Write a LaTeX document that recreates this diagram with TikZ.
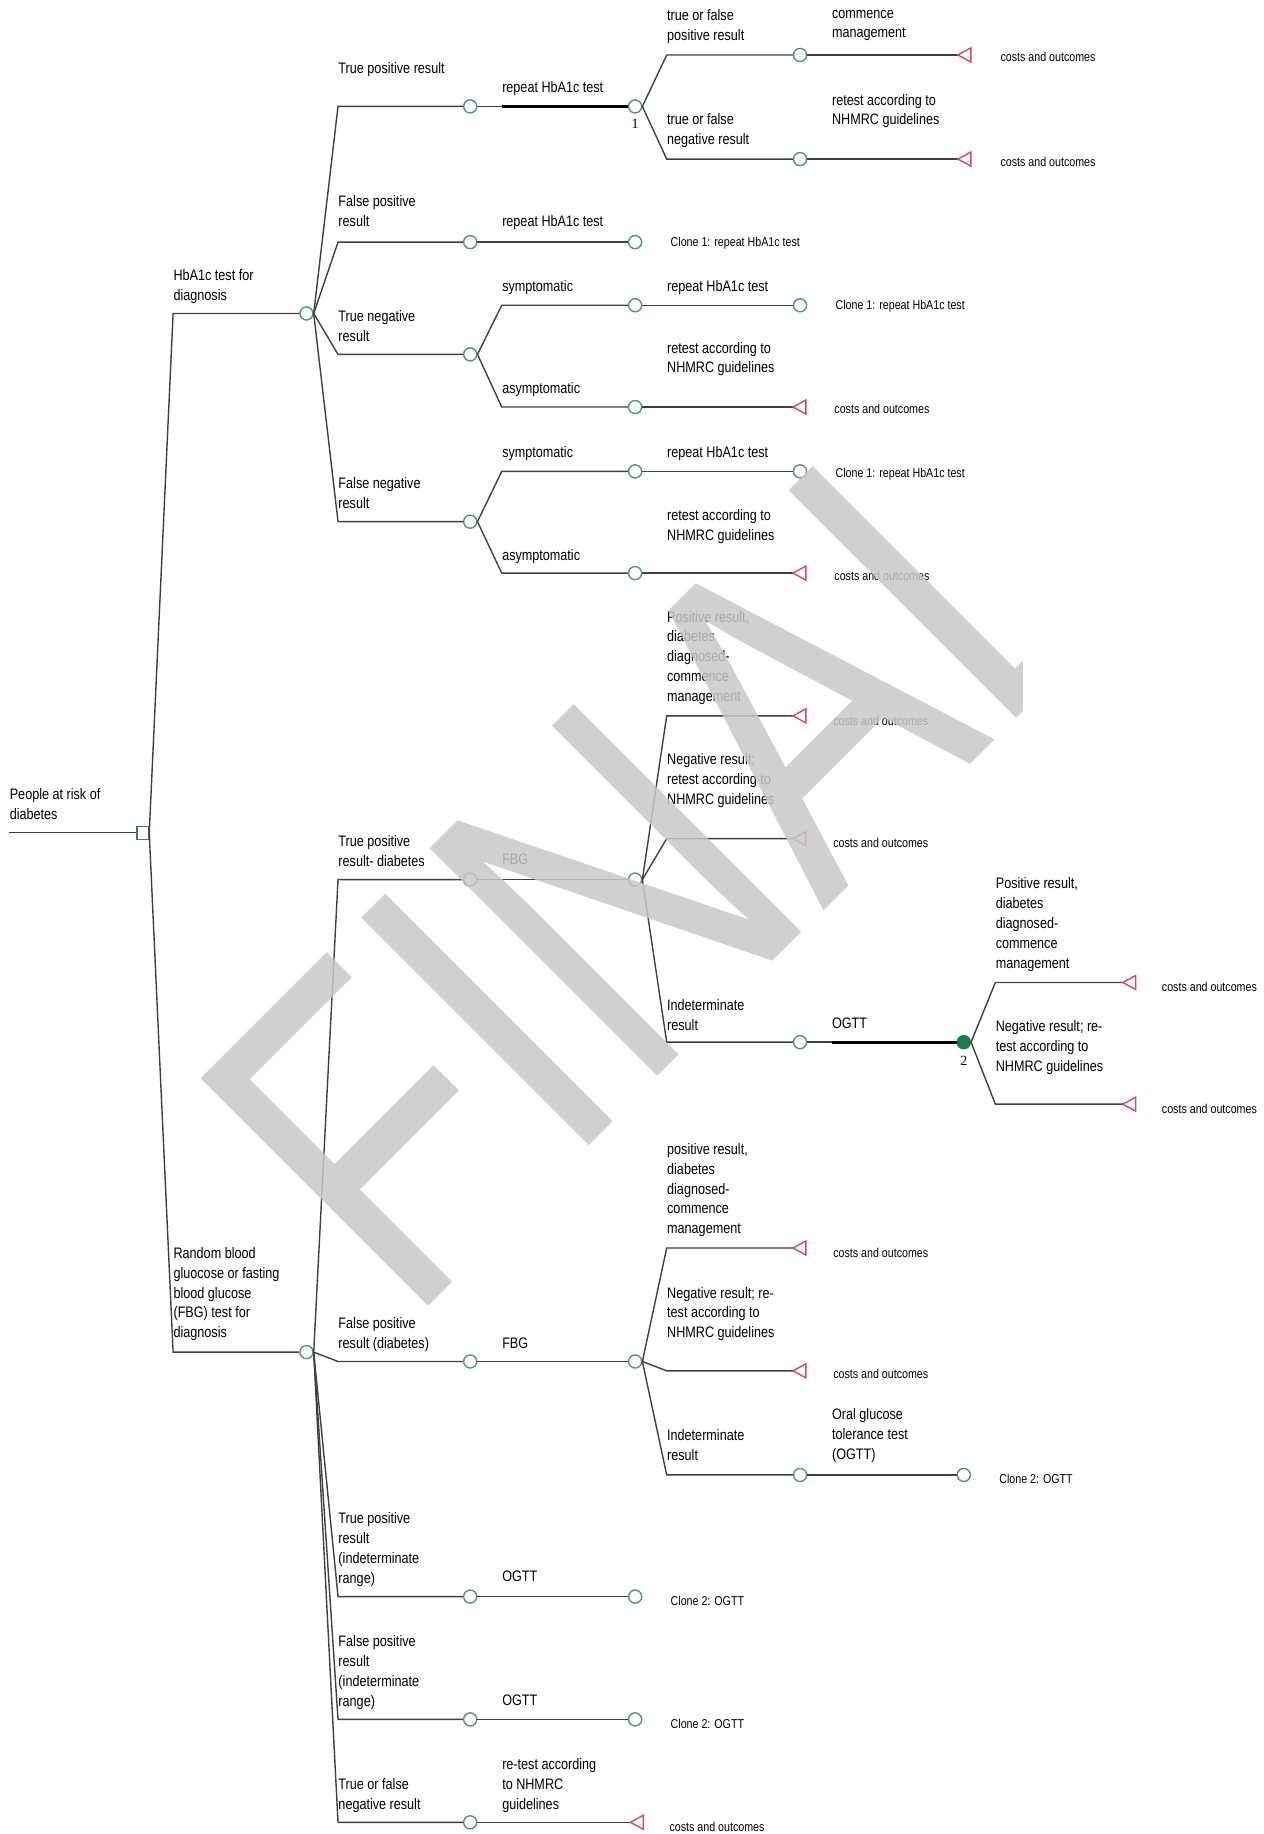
\documentclass[tikz,border=0pt]{standalone}
\usepackage{fontspec}
\setmainfont{Liberation Sans}[FakeStretch=0.83]
\newfontfamily\wmfont{Liberation Sans}[FakeStretch=0.78]
\newfontfamily\numfont{Liberation Serif}
\definecolor{lgrey}{RGB}{64,64,64}
\definecolor{cgreen}{RGB}{80,150,120}
\definecolor{tred}{RGB}{214,70,100}
\definecolor{dblue}{RGB}{70,100,180}
\definecolor{fgreen}{RGB}{30,122,70}
\definecolor{wmgrey}{RGB}{200,200,200}
\begin{document}
\begin{tikzpicture}[x=0.5pt,y=-0.5pt,
  lbl/.style={anchor=north west,inner sep=0pt,align=left,font=\fontsize{6.5}{8.5}\selectfont},
  sml/.style={anchor=west,inner sep=0pt,font=\fontsize{5.5}{6.5}\selectfont},
  num/.style={inner sep=0pt,font=\numfont\fontsize{6}{7}\selectfont},
  chance/.style={circle,draw=cgreen,line width=0.6pt,minimum size=5.6pt,inner sep=0pt,fill=white},
  fchance/.style={circle,draw=fgreen,fill=fgreen,line width=0.6pt,minimum size=5.6pt,inner sep=0pt},
  dec/.style={rectangle,draw=dblue,line width=0.6pt,minimum width=5pt,minimum height=5.6pt,inner sep=0pt,fill=white},
  br/.style={draw=lgrey,line width=0.6pt},
  thk/.style={draw=black,line width=1.4pt},
  term/.style={draw=tred,line width=0.6pt,fill=white,line join=miter}]
\useasboundingbox (0,0) rectangle (1080,1568);
% columns
\coordinate (Xa) at (148,0);
\coordinate (Xb) at (289,0);
\coordinate (Xc) at (429,0);
\coordinate (Xd) at (570,0);
\coordinate (Xe) at (711,0);
\coordinate (Xf) at (851,0);
% root
\coordinate (root) at (8,712);
\node[dec] (sq) at (122,712) {};
\node[lbl] (lroot) at (8,674) {People at risk of\\diabetes};
% level 1
\node[chance] (hb) at (262,268) {};
\node[lbl] (lhb) at (148,230) {HbA1c test for\\diagnosis};
\node[chance] (rb) at (262,1156) {};
\node[lbl] (lrb) at (148,1066) {Random blood\\gluocose or fasting\\blood glucose\\(FBG) test for\\diagnosis};
% HbA1c branches
\node[chance] (tp) at (402,91) {};
\node[lbl] (ltp) at (289,53) {True positive result};
\node[chance] (fp) at (402,207) {};
\node[lbl] (lfp) at (289,167) {False positive\\result};
\node[chance] (tn) at (402,303) {};
\node[lbl] (ltn) at (289,265) {True negative\\result};
\node[chance] (fn) at (402,446) {};
\node[lbl] (lfn) at (289,408) {False negative\\result};
% true positive
\node[chance] (r1) at (543,91) {};
\node[lbl] (lr1) at (429,69) {repeat HbA1c test};
\node[num] (n1) at (543,106) {1};
\node[chance] (tfp) at (684,47) {};
\node[lbl] (ltfp) at (570,8) {true or false\\positive result};
\node[chance] (tfn) at (684,136) {};
\node[lbl] (ltfn) at (570,97) {true or false\\negative result};
\coordinate (T1) at (819,47);
\node[lbl] (lT1) at (711,8) {commence\\management};
\node[sml] (cT1) at (855,49) {costs and outcomes};
\coordinate (T2) at (819,136);
\node[lbl] (lT2) at (711,80) {retest according to\\NHMRC guidelines};
\node[sml] (cT2) at (855,138) {costs and outcomes};
% false positive
\node[chance] (f2) at (543,207) {};
\node[lbl] (lf2) at (429,184) {repeat HbA1c test};
\node[sml] (cf2) at (573,208) {Clone 1: repeat HbA1c test};
% true negative
\node[chance] (tns) at (543,261) {};
\node[lbl] (ltns) at (429,239) {symptomatic};
\node[chance] (tna) at (543,348) {};
\node[lbl] (ltna) at (429,327) {asymptomatic};
\node[chance] (tnsr) at (684,261) {};
\node[lbl] (ltnsr) at (570,239) {repeat HbA1c test};
\node[sml] (ctnsr) at (714,262) {Clone 1: repeat HbA1c test};
\coordinate (T3) at (678,348);
\node[lbl] (lT3) at (570,292) {retest according to\\NHMRC guidelines};
\node[sml] (cT3) at (713,350) {costs and outcomes};
% false negative
\node[chance] (fns) at (543,403) {};
\node[lbl] (lfns) at (429,381) {symptomatic};
\node[chance] (fna) at (543,490) {};
\node[lbl] (lfna) at (429,469) {asymptomatic};
\node[chance] (fnsr) at (684,403) {};
\node[lbl] (lfnsr) at (570,381) {repeat HbA1c test};
\node[sml] (cfnsr) at (714,405) {Clone 1: repeat HbA1c test};
\coordinate (T4) at (678,490);
\node[lbl] (lT4) at (570,435) {retest according to\\NHMRC guidelines};
\node[sml] (cT4) at (713,492) {costs and outcomes};
% Random blood glucose branches
\node[chance] (tpd) at (402,752) {};
\node[lbl] (ltpd) at (289,714) {True positive\\result- diabetes};
\node[chance] (fpd) at (402,1164) {};
\node[lbl] (lfpd) at (289,1126) {False positive\\result (diabetes)};
\node[chance] (tpi) at (402,1365) {};
\node[lbl] (ltpi) at (289,1293) {True positive\\result\\(indeterminate\\range)};
\node[chance] (fpi) at (402,1470) {};
\node[lbl] (lfpi) at (289,1398) {False positive\\result\\(indeterminate\\range)};
\node[chance] (tfneg) at (402,1558) {};
\node[lbl] (ltfneg) at (289,1520) {True or false\\negative result};
% true positive diabetes
\node[chance] (fbg1) at (543,752) {};
\node[lbl] (lfbg1) at (429,730) {FBG};
\coordinate (T5) at (678,612);
\node[lbl] (lT5) at (570,522) {Positive result,\\diabetes\\diagnosed-\\commence\\management};
\node[sml] (cT5) at (712,616) {costs and outcomes};
\coordinate (T6) at (678,717);
\node[lbl] (lT6) at (570,644) {Negative result;\\retest according to\\NHMRC guidelines};
\node[sml] (cT6) at (712,721) {costs and outcomes};
\node[chance] (ind1) at (684,891) {};
\node[lbl] (lind1) at (570,854) {Indeterminate\\result};
\node[fchance] (og) at (824,891) {};
\node[lbl] (log) at (711,870) {OGTT};
\node[num] (n2) at (824,907) {2};
\coordinate (T7) at (960,840);
\node[lbl] (lT7) at (851,750) {Positive result,\\diabetes\\diagnosed-\\commence\\management};
\node[sml] (cT7) at (993,844) {costs and outcomes};
\coordinate (T8) at (960,944);
\node[lbl] (lT8) at (851,872) {Negative result; re-\\test according to\\NHMRC guidelines};
\node[sml] (cT8) at (993,948) {costs and outcomes};
% false positive diabetes
\node[chance] (fbg2) at (543,1164) {};
\node[lbl] (lfbg2) at (429,1143) {FBG};
\coordinate (T9) at (678,1067);
\node[lbl] (lT9) at (570,977) {positive result,\\diabetes\\diagnosed-\\commence\\management};
\node[sml] (cT9) at (712,1071) {costs and outcomes};
\coordinate (T10) at (678,1172);
\node[lbl] (lT10) at (570,1100) {Negative result; re-\\test according to\\NHMRC guidelines};
\node[sml] (cT10) at (712,1175) {costs and outcomes};
\node[chance] (ind2) at (684,1261) {};
\node[lbl] (lind2) at (570,1222) {Indeterminate\\result};
\node[chance] (c2) at (824,1261) {};
\node[lbl] (lc2) at (711,1204) {Oral glucose\\tolerance test\\(OGTT)};
\node[sml] (cc2) at (854,1264) {Clone 2: OGTT};
% indeterminate ranges
\node[chance] (o1) at (543,1365) {};
\node[lbl] (lo1) at (429,1343) {OGTT};
\node[sml] (co1) at (573,1369) {Clone 2: OGTT};
\node[chance] (o2) at (543,1470) {};
\node[lbl] (lo2) at (429,1449) {OGTT};
\node[sml] (co2) at (573,1474) {Clone 2: OGTT};
\coordinate (T11) at (539,1558);
\node[lbl] (lT11) at (429,1503) {re-test according\\to NHMRC\\guidelines};
\node[sml] (cT11) at (572,1562) {costs and outcomes};
% ---------- connectors ----------
\draw[br] (root) -- (sq.west);
\draw[br] (sq.east) -- (Xa |- hb) -- (hb.west);
\draw[br] (sq.east) -- (Xa |- rb) -- (rb.west);
\foreach \c in {tp,fp,tn,fn} \draw[br] (hb.east) -- (Xb |- \c) -- (\c.west);
\foreach \c in {tpd,fpd,tpi,fpi,tfneg} \draw[br] (rb.east) -- (Xb |- \c) -- (\c.west);
\draw[br] (tp.east) -- (Xc |- r1);
\draw[thk] (Xc |- r1) -- (r1.west);
\foreach \c in {tfp,tfn} \draw[br] (r1.east) -- (Xd |- \c) -- (\c.west);
\draw[br] (tfp.east) -- (T1);
\draw[br] (tfn.east) -- (T2);
\draw[br] (fp.east) -- (f2.west);
\foreach \c in {tns,tna} \draw[br] (tn.east) -- (Xc |- \c) -- (\c.west);
\draw[br] (tns.east) -- (tnsr.west);
\draw[br] (tna.east) -- (T3);
\foreach \c in {fns,fna} \draw[br] (fn.east) -- (Xc |- \c) -- (\c.west);
\draw[br] (fns.east) -- (fnsr.west);
\draw[br] (fna.east) -- (T4);
\draw[br] (tpd.east) -- (fbg1.west);
\draw[br] (fbg1.east) -- (Xd |- T5) -- (T5);
\draw[br] (fbg1.east) -- (Xd |- T6) -- (T6);
\draw[br] (fbg1.east) -- (Xd |- ind1) -- (ind1.west);
\draw[br] (ind1.east) -- (Xe |- og);
\draw[thk] (Xe |- og) -- (og.west);
\draw[br] (og.east) -- (Xf |- T7) -- (T7);
\draw[br] (og.east) -- (Xf |- T8) -- (T8);
\draw[br] (fpd.east) -- (fbg2.west);
\draw[br] (fbg2.east) -- (Xd |- T9) -- (T9);
\draw[br] (fbg2.east) -- (Xd |- T10) -- (T10);
\draw[br] (fbg2.east) -- (Xd |- ind2) -- (ind2.west);
\draw[br] (ind2.east) -- (c2.west);
\draw[br] (tpi.east) -- (o1.west);
\draw[br] (fpi.east) -- (o2.west);
\draw[br] (tfneg.east) -- (T11);
% terminal triangles
\foreach \t in {T1,T2,T3,T4,T5,T6,T7,T8,T9,T10,T11}
  \draw[term] (\t) -- ++(11,-6) -- ++(0,12) -- cycle;
% watermark
\begin{scope}
\clip (0,0) rectangle (874,1568);
\node[anchor=base west,inner sep=0pt,rotate=45,text=wmgrey,text opacity=0.85,font=\wmfont\fontsize{200}{200}\selectfont] (wm) at (348,1135) {FINAL};
\end{scope}
\end{tikzpicture}
\end{document}
